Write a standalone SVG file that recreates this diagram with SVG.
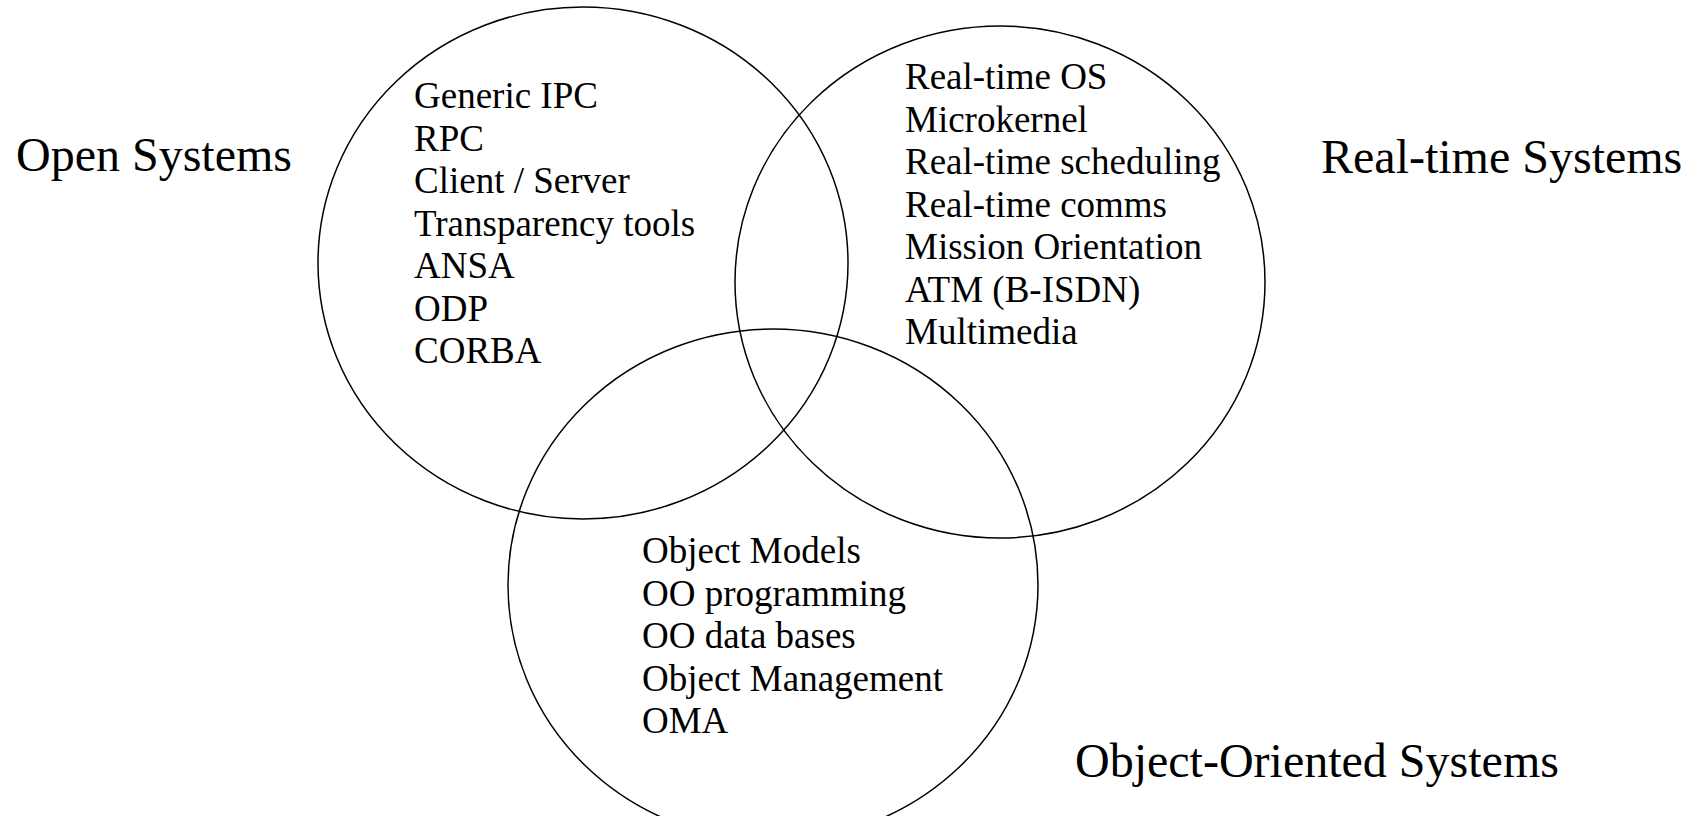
<svg xmlns="http://www.w3.org/2000/svg" width="1694" height="816" viewBox="0 0 1694 816">
<style>
.c{fill:none;stroke:#000;stroke-width:1.5}
.t{font-family:"Liberation Serif","Times New Roman",serif;font-size:48px;fill:#000}
.l{font-family:"Liberation Serif","Times New Roman",serif;font-size:37px;fill:#000}
</style>
<rect width="1694" height="816" fill="#fff"/>
<g id="open-systems">
<ellipse class="c" cx="583" cy="263" rx="265" ry="256"/>
<text class="t" x="16" y="171">Open Systems</text>
<text class="l" x="414" y="108">Generic IPC</text>
<text class="l" x="414" y="150.5">RPC</text>
<text class="l" x="414" y="193">Client / Server</text>
<text class="l" x="414" y="235.5">Transparency tools</text>
<text class="l" x="414" y="278">ANSA</text>
<text class="l" x="414" y="320.5">ODP</text>
<text class="l" x="414" y="363">CORBA</text>
</g>
<g id="real-time-systems">
<ellipse class="c" cx="1000" cy="282" rx="265" ry="256"/>
<text class="t" x="1321" y="173">Real-time Systems</text>
<text class="l" x="905" y="89">Real-time OS</text>
<text class="l" x="905" y="131.5">Microkernel</text>
<text class="l" x="905" y="174">Real-time scheduling</text>
<text class="l" x="905" y="216.5">Real-time comms</text>
<text class="l" x="905" y="259">Mission Orientation</text>
<text class="l" x="905" y="301.5">ATM (B-ISDN)</text>
<text class="l" x="905" y="344">Multimedia</text>
</g>
<g id="object-oriented-systems">
<ellipse class="c" cx="773" cy="585" rx="265" ry="256"/>
<text class="t" x="1075" y="777">Object-Oriented Systems</text>
<text class="l" x="642" y="563">Object Models</text>
<text class="l" x="642" y="605.5">OO programming</text>
<text class="l" x="642" y="648">OO data bases</text>
<text class="l" x="642" y="690.5">Object Management</text>
<text class="l" x="642" y="733">OMA</text>
</g>
<g id="connectors"></g>
</svg>
